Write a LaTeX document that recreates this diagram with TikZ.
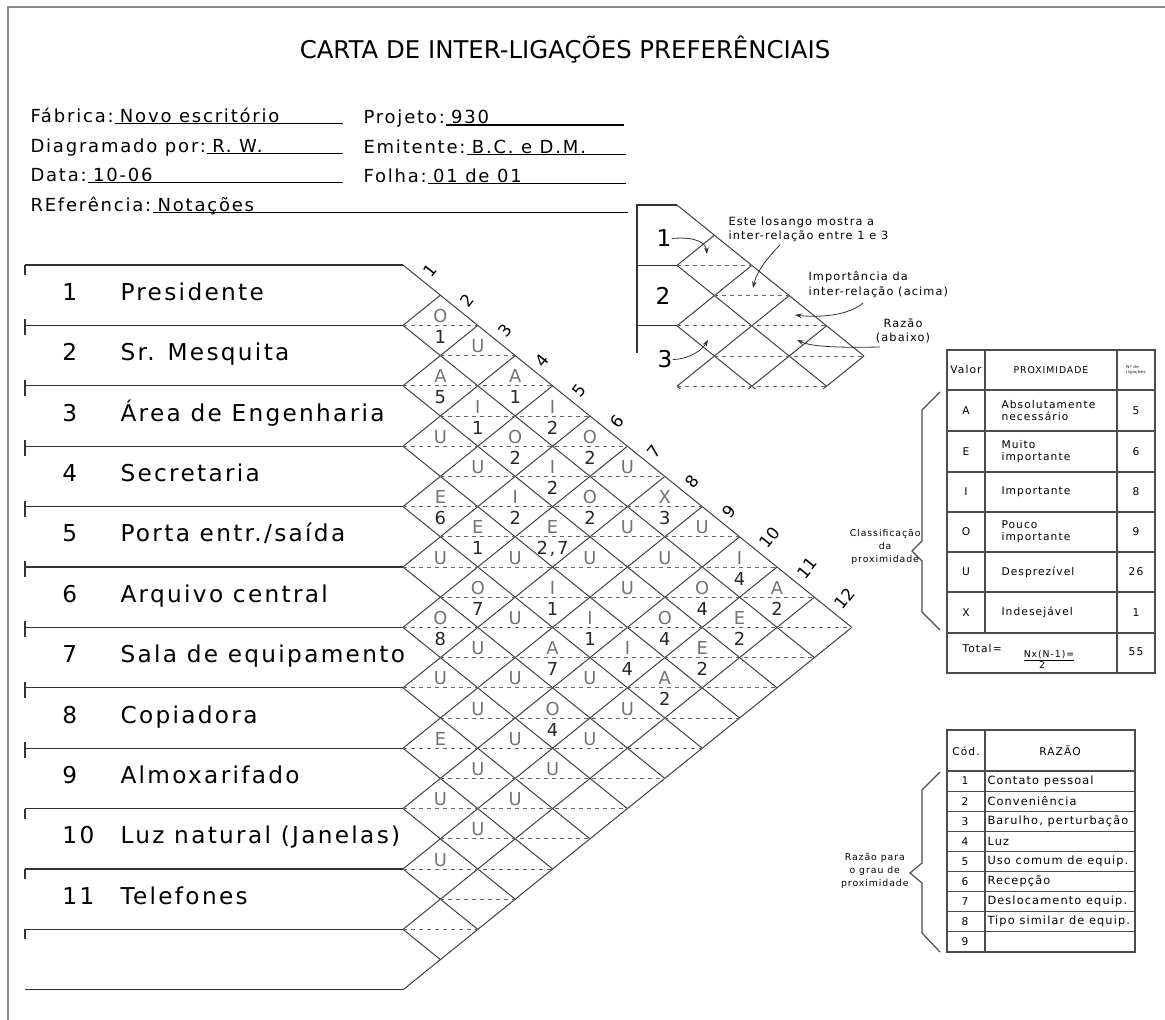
\documentclass[tikz,border=0pt]{standalone}
\usepackage{fontspec}
\setmainfont{DejaVu Sans}[LetterSpace=10]
\newfontfamily\titlefont{DejaVu Sans}
\usetikzlibrary{arrows.meta}

\tikzset{every picture/.style={line width=0.75pt}}
\tikzset{
  rowline/.style={draw=black!80,line width=0.9pt},
  gridline/.style={draw=black!75},
  halfline/.style={draw=black!60,dash pattern={on 3pt off 3pt}},
  tabline/.style={draw=black!70,line width=0.9pt},
  relval/.style={anchor=base,inner sep=0pt,text=black!55,font=\fontsize{13.4}{14}\selectfont},
  relwhy/.style={anchor=base,inner sep=0pt,text=black!85,font=\fontsize{13.4}{14}\selectfont},
  colnum/.style={anchor=west,rotate=51,inner sep=0pt,font=\titlefont\fontsize{12.5}{13}\selectfont},
  rowtext/.style={anchor=base west,inner sep=0pt,font=\fontsize{17.4}{18}\selectfont},
  hdrtext/.style={anchor=base west,inner sep=0pt,font=\fontsize{13.5}{14}\selectfont},
  notetext/.style={inner sep=0pt,align=left,font=\fontsize{8.5}{11}\selectfont},
  bracetext/.style={inner sep=0pt,align=center,font=\fontsize{7}{10}\selectfont},
  tabtext/.style={inner sep=0pt,align=left,font=\fontsize{8}{9}\selectfont},
  notearrow/.style={draw=black!80,line width=0.6pt,-{Stealth[length=5pt,width=3.5pt]}},
}
\def\gw{37.4}
\def\gh{30.2}

\begin{document}
\begin{tikzpicture}[x=0.75pt,y=0.75pt,yscale=-1,xscale=1]
\useasboundingbox (0,0) rectangle (1165,1020);

%Straight Lines: sheet frame
\draw[black!45,line width=1.2pt] (8,1020) -- (8,7) -- (1165,7);

% Text Node
\node[inner sep=0pt,font=\titlefont\fontsize{18.3}{20}\selectfont] (title) at (565,50) {CARTA DE INTER-LIGAÇÕES PREFERÊNCIAIS};

% header fields
\node[hdrtext] (fab) at (30,123) {Fábrica:};
\node[hdrtext] (fabv) at ([xshift=4pt]fab.base east) {Novo escritório};
\draw (fab.base east) ++(1,1) -- (343,124);
\node[hdrtext] (proj) at (363,124) {Projeto:};
\node[hdrtext] (projv) at ([xshift=4pt]proj.base east) {930};
\draw[line width=1.2pt] (proj.base east) ++(1,1) -- (624,125);
\node[hdrtext] (diag) at (30,153) {Diagramado por:};
\node[hdrtext] (diagv) at ([xshift=4pt]diag.base east) {R. W.};
\draw (diag.base east) ++(1,1) -- (343,154);
\node[hdrtext] (emit) at (363,154) {Emitente:};
\node[hdrtext] (emitv) at ([xshift=4pt]emit.base east) {B.C. e D.M.};
\draw (emit.base east) ++(1,1) -- (626,155);
\node[hdrtext] (data) at (30,182) {Data:};
\node[hdrtext] (datav) at ([xshift=4pt]data.base east) {10-06};
\draw (data.base east) ++(1,1) -- (343,183);
\node[hdrtext] (folha) at (363,183) {Folha:};
\node[hdrtext] (folhav) at ([xshift=4pt]folha.base east) {01 de 01};
\draw (folha.base east) ++(1,1) -- (626,184);
\node[hdrtext] (refe) at (30,212) {REferência:};
\node[hdrtext] (refev) at ([xshift=4pt]refe.base east) {Notações};
\draw (refe.base east) ++(1,1) -- (628,213);

% department rows
\foreach \m in {0,...,12} \draw[rowline] (25,{265+2*\gh*\m}) -- (403,{265+2*\gh*\m});
\foreach \m in {1,...,8} \draw[rowline] (25,{265+2*\gh*\m-6}) -- (25,{265+2*\gh*\m+10});
\foreach \m in {0,9,10,11} \draw[rowline] (25,{265+2*\gh*\m}) -- (25,{265+2*\gh*\m+10});
\foreach \n/\name in {1/Presidente,2/Sr. Mesquita,3/Área de Engenharia,4/Secretaria,
    5/{Porta entr./saída},6/Arquivo central,7/Sala de equipamento,8/Copiadora,
    9/Almoxarifado,10/Luz natural (Janelas),11/Telefones} {
  \node[rowtext] (num\n) at (62,{265+(2*\n-1)*\gh+5}) {\n};
  \node[rowtext] (dep\n) at (120,{265+(2*\n-1)*\gh+5}) {\name};
}

% diamond grid
\foreach \m in {0,...,11} \draw[gridline] (403,{265+2*\gh*\m}) -- ++({(12-\m)*\gw},{(12-\m)*\gh});
\foreach \m in {1,...,12} \draw[gridline] (403,{265+2*\gh*\m}) -- ++({\m*\gw},{-\m*\gh});
\foreach \k in {3,...,23} {
  \pgfmathtruncatemacro\dlo{2-mod(\k,2)}
  \pgfmathtruncatemacro\dhi{min(\k-2,24-\k)}
  \draw[halfline] ({403+(\dlo-1)*\gw},{265+(\k-1)*\gh}) -- ({403+(\dhi+1)*\gw},{265+(\k-1)*\gh});
}

% column numbers
\foreach \k in {1,...,12}
  \node[colnum] (col\k) at ({403+(\k-0.5)*\gw+4.5},{265+(\k-0.5)*\gh-5.5}) {\k};

% proximity values (upper half)
\foreach \i/\j/\v in {1/2/O,1/3/U,2/3/A,1/4/A,2/4/I,1/5/I,3/4/U,2/5/O,1/6/O,3/5/U,2/6/I,1/7/U,
    4/5/E,3/6/I,2/7/O,1/8/X,4/6/E,3/7/E,2/8/U,1/9/U,5/6/U,4/7/U,3/8/U,2/9/U,1/10/I,
    5/7/O,4/8/I,3/9/U,2/10/O,1/11/A,6/7/O,5/8/U,4/9/I,3/10/O,2/11/E,6/8/U,5/9/A,4/10/I,
    3/11/E,7/8/U,6/9/U,5/10/U,4/11/A,7/9/U,6/10/O,5/11/U,8/9/E,7/10/U,6/11/U,8/10/U,
    7/11/U,9/10/U,8/11/U,9/11/U,10/11/U}
  \node[relval] (v\i-\j) at ({403+(\j-\i)*\gw},{265+(\i+\j-1)*\gh-3}) {\v};

% reasons (lower half)
\foreach \i/\j/\r in {1/2/1,2/3/5,1/4/1,2/4/1,1/5/2,2/5/2,1/6/2,2/6/2,4/5/6,3/6/2,2/7/2,1/8/3,
    4/6/1,3/7/{2,7},1/10/4,5/7/7,4/8/1,2/10/4,1/11/2,6/7/8,4/9/1,3/10/4,2/11/2,5/9/7,
    4/10/4,3/11/2,4/11/2,6/10/4}
  \node[relwhy] (r\i-\j) at ({403+(\j-\i)*\gw},{265+(\i+\j-1)*\gh+18}) {\r};

% small example chart
\draw[rowline] (637,353) -- (637,205) -- (677,205);
\draw[rowline] (637,265.4) -- (677,265.4);
\draw[rowline] (637,325.8) -- (677,325.8);
\begin{scope}
  \clip (620,195) rectangle (880,388);
  \foreach \m in {0,...,4} \draw[gridline] (677,{205+2*\gh*\m}) -- ++({(5-\m)*\gw},{(5-\m)*\gh});
  \foreach \m in {1,...,5} \draw[gridline] (677,{205+2*\gh*\m}) -- ++({\m*\gw},{-\m*\gh});
  \foreach \k in {3,...,7} {
    \pgfmathtruncatemacro\dlo{2-mod(\k,2)}
    \pgfmathtruncatemacro\dhi{min(\k-2,10-\k)}
    \draw[halfline] ({677+(\dlo-1)*\gw},{205+(\k-1)*\gh}) -- ({677+(\dhi+1)*\gw},{205+(\k-1)*\gh});
  }
\end{scope}
\node[rowtext] (ex1) at (656,247) {1};
\node[rowtext] (ex2) at (655,305) {2};
\node[rowtext] (ex3) at (657,368) {3};

% Text Node
\node[notetext,anchor=north west] (note1) at (728,216) {Este losango mostra a\\inter-relação entre 1 e 3};
\node[notetext,anchor=north west] (note2) at (808,271) {Importância da\\inter-relação (acima)};
\node[notetext,align=center] (note3) at (903,331) {Razão\\(abaixo)};

\coordinate (tip1) at (707,254);
\coordinate (tip3) at (708,340);
\coordinate (tip13) at (753,288);
\coordinate (tipup) at (795,315);
\coordinate (tipdn) at (797,340);
\draw[notearrow] (ex1.east) .. controls (697,236) and (706,244) .. (tip1);
\draw[notearrow] (ex3.east) .. controls (690,359) and (702,350) .. (tip3);
\draw[notearrow] (780,245) .. controls (770,255) and (757,270) .. (tip13);
\draw[notearrow] (863,303) .. controls (850,315) and (820,318) .. (tipup);
\draw[notearrow] (880,347) .. controls (830,348) and (810,346) .. (tipdn);

% proximity table
\draw[tabline] (947,350) rectangle (1155,673);
\draw[tabline] (985,350) -- (985,633);
\draw[tabline] (1117,350) -- (1117,673);
\foreach \y in {390,431,472,512,552,592,633} \draw[tabline] (947,\y) -- (1155,\y);
\node[tabtext] (hval) at (966,370) {Valor};
\node[tabtext,font=\fontsize{7}{9}\selectfont] (hprox) at (1051,370) {PROXIMIDADE};
\node[tabtext,font=\fontsize{3}{3.5}\selectfont] (hnum) at (1136,370) {Nº de\\ligações};
\foreach \y/\v/\t/\c in {410.5/A/{Absolutamente\\necessário}/5,451.5/E/{Muito\\importante}/6,
    492/I/Importante/8,532/O/{Pouco\\importante}/9,572/U/Desprezível/26,612.5/X/Indesejável/1} {
  \node[tabtext] (val\v) at (966,\y) {\v};
  \node[tabtext,anchor=west] (txt\v) at (1001,\y) {\t};
  \node[tabtext] (cnt\v) at (1136,\y) {\c};
}
\node[tabtext,anchor=west] (tot) at (962,649) {Total=};
\node[tabtext,font=\fontsize{7}{8}\selectfont,anchor=base] (totn) at (1049,657) {\underline{Nx(N-1)=}};
\node[tabtext,font=\fontsize{7}{8}\selectfont] (totd) at (1042,665) {2};
\node[tabtext] (totv) at (1136,652) {55};

\draw[tabline] (940,392) -- (922,410) -- (922,541) -- (912,551) -- (922,561) -- (922,612) -- (940,630);
\node[bracetext,anchor=east] (cls) at (921,547) {Classificação\\da\\proximidade};

% reason table
\draw[tabline] (947,730) rectangle (1135,952);
\draw[tabline] (985,730) -- (985,952);
\foreach \k in {0,...,8} \draw[tabline] (947,{771+20.1*\k}) -- (1135,{771+20.1*\k});
\node[tabtext] (hcod) at (966,751) {Cód.};
\node[tabtext] (hraz) at (1060,751) {RAZÃO};
\foreach \k/\t in {1/Contato pessoal,2/Conveniência,3/{Barulho, perturbação},4/Luz,
    5/Uso comum de equip.,6/Recepção,7/Deslocamento equip.,8/Tipo similar de equip.,9/{}} {
  \node[tabtext] (cod\k) at (965,{771+20.1*(\k-0.5)}) {\k};
  \node[tabtext,anchor=west,font=\fontsize{8.5}{10}\selectfont] (raz\k) at (987,{771+20.1*(\k-0.5)}) {\t};
}

\draw[tabline] (940,772) -- (922,790) -- (922,863) -- (910,873) -- (922,883) -- (922,933) -- (940,952);
\node[bracetext,anchor=east] (rzp) at (909,871) {Razão para\\o grau de\\proximidade};
\end{tikzpicture}
\end{document}
